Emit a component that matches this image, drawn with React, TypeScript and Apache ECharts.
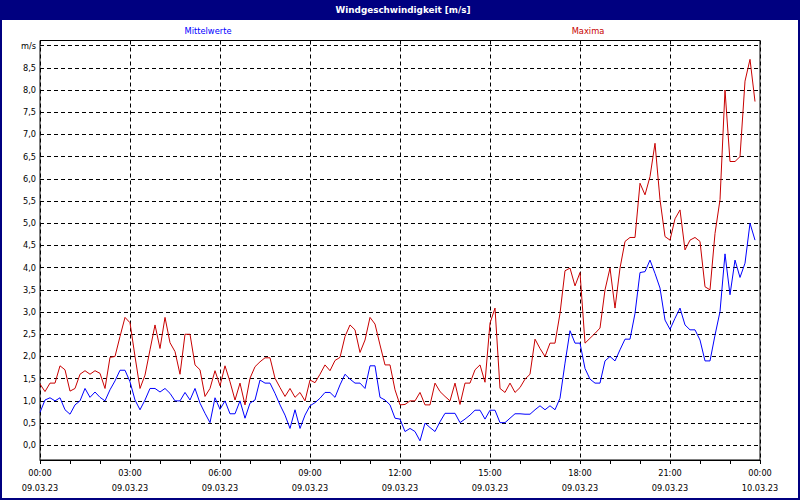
import React, { useEffect, useRef } from "react";
import * as echarts from "echarts";

const TITLE = "Windgeschwindigkeit [m/s]";
const SERIES_NAMES = ["Mittelwerte", "Maxima"];
const DATE_LABELS = ["09.03.23", "10.03.23"];

// 10-minute values, 00:00 .. 23:50
const MEAN: number[] = [
  0.74, 1.02, 1.07, 1.0, 1.07, 0.8, 0.7, 0.91, 1.0, 1.28, 1.08, 1.2,
  1.08, 1.0, 1.25, 1.45, 1.69, 1.69, 1.43, 1.02, 0.8, 1.02, 1.28, 1.28,
  1.2, 1.28, 1.17, 1.0, 1.0, 1.19, 1.02, 1.28, 0.95, 0.72, 0.51, 1.07,
  0.81, 1.0, 0.71, 0.71, 1.0, 0.61, 0.95, 1.02, 1.47, 1.4, 1.4, 1.17,
  0.91, 0.68, 0.38, 0.8, 0.38, 0.68, 0.89, 0.96, 1.06, 1.19, 1.19, 1.08,
  1.36, 1.6, 1.49, 1.4, 1.4, 1.28, 1.79, 1.79, 1.08, 1.02, 0.91, 0.61,
  0.59, 0.31, 0.38, 0.31, 0.1, 0.5, 0.4, 0.31, 0.53, 0.72, 0.72, 0.72,
  0.51, 0.59, 0.68, 0.79, 0.79, 0.59, 0.79, 0.79, 0.51, 0.51, 0.61, 0.71,
  0.71, 0.7, 0.7, 0.8, 0.89, 0.8, 0.89, 0.8, 1.06, 1.85, 2.58, 2.3,
  2.3, 1.73, 1.49, 1.4, 1.4, 1.9, 2.0, 1.9, 2.15, 2.39, 2.39, 2.97,
  3.89, 3.91, 4.17, 3.87, 3.54, 2.82, 2.61, 2.86, 3.09, 2.71, 2.6, 2.6,
  2.37, 1.9, 1.9, 2.48, 3.01, 4.31, 3.39, 4.17, 3.78, 4.1, 5.0, 4.62,
];

const MAX: number[] = [
  1.38, 1.21, 1.4, 1.4, 1.79, 1.7, 1.22, 1.28, 1.6, 1.68, 1.6, 1.68,
  1.62, 1.28, 1.98, 2.0, 2.45, 2.88, 2.76, 2.0, 1.28, 1.58, 2.15, 2.71,
  2.18, 2.88, 2.31, 2.11, 1.6, 2.5, 2.5, 1.81, 1.7, 1.1, 1.28, 1.68,
  1.34, 1.79, 1.43, 1.02, 1.4, 0.91, 1.51, 1.77, 1.88, 1.97, 1.97, 1.51,
  1.3, 1.1, 1.28, 1.08, 1.19, 1.0, 1.47, 1.41, 1.6, 1.81, 1.68, 1.91,
  1.98, 2.45, 2.71, 2.6, 2.09, 2.37, 2.88, 2.73, 2.26, 1.81, 1.81, 1.25,
  0.91, 0.92, 1.0, 1.0, 1.19, 0.91, 0.91, 1.4, 1.21, 1.1, 1.0, 1.4,
  0.92, 1.4, 1.4, 1.7, 1.81, 1.42, 2.75, 3.09, 1.28, 1.19, 1.4, 1.19,
  1.3, 1.49, 1.6, 2.39, 2.18, 2.0, 2.3, 2.3, 2.97, 3.93, 3.99, 3.59,
  3.89, 2.3, 2.41, 2.52, 2.64, 3.5, 3.99, 3.09, 3.99, 4.59, 4.68, 4.68,
  5.9, 5.64, 6.05, 6.8, 5.53, 4.7, 4.62, 5.1, 5.3, 4.4, 4.62, 4.68,
  4.59, 3.57, 3.5, 4.77, 5.53, 8.0, 6.39, 6.39, 6.5, 8.2, 8.69, 7.74,
];

const NAVY = "#000080";
const BLUE = "#0000FF";
const RED = "#C80000";
const FONT = "DejaVu Sans";

export default function App() {
  const ref = useRef<HTMLDivElement>(null);

  useEffect(() => {
    document.body.style.margin = "0";
    const chart = echarts.init(ref.current!, null, { renderer: "svg" });
    const toPts = (arr: number[]) => arr.map((v, i) => [i / 6, v]);
    const option: any = {
      animation: false,
      backgroundColor: "#ffffff",
      textStyle: { fontFamily: FONT },
      grid: [
        { left: 40, width: 720, top: 45.6, height: 399.7, show: false },
        {
          left: 40,
          width: 720,
          top: 40.5,
          height: 419.5,
          show: true,
          borderColor: "#000",
          borderWidth: 1,
          backgroundColor: "transparent",
        },
      ],
      xAxis: [
        { type: "value", gridIndex: 0, min: 0, max: 24, show: false },
        {
          type: "value",
          gridIndex: 1,
          min: 0,
          max: 24,
          interval: 3,
          axisLine: { show: true, lineStyle: { color: "#000", width: 1 } },
          axisTick: { show: true, length: 4, lineStyle: { color: "#000" } },
          minorTick: { show: true, splitNumber: 3, length: 4, lineStyle: { color: "#000" } },
          splitLine: { show: true, lineStyle: { color: "#000", type: [4, 3], width: 1 } },
          axisLabel: {
            margin: 5,
            fontFamily: FONT,
            fontSize: 8.2,
            color: "#000",
            lineHeight: 15,
            formatter: (v: number) => {
              const h = v % 24;
              const hh = (h < 10 ? "0" : "") + h + ":00";
              return hh + "\n" + (v >= 24 ? DATE_LABELS[1] : DATE_LABELS[0]);
            },
          },
        },
      ],
      yAxis: [
        {
          type: "value",
          gridIndex: 0,
          min: 0,
          max: 9,
          interval: 0.5,
          axisLine: { show: false },
          axisTick: { show: false },
          splitLine: { show: true, lineStyle: { color: "#000", type: [4, 3], width: 1 } },
          axisLabel: {
            margin: 4,
            fontFamily: FONT,
            fontSize: 8.2,
            color: "#000",
            formatter: (v: number) => (v === 9 ? "m/s" : v.toFixed(1).replace(".", ",")),
          },
        },
        { type: "value", gridIndex: 1, min: 0, max: 1, show: false },
      ],
      series: [
        {
          name: SERIES_NAMES[1],
          type: "line",
          xAxisIndex: 0,
          yAxisIndex: 0,
          showSymbol: false,
          symbol: "none",
          lineStyle: { color: RED, width: 1 },
          data: toPts(MAX),
        },
        {
          name: SERIES_NAMES[0],
          type: "line",
          xAxisIndex: 0,
          yAxisIndex: 0,
          showSymbol: false,
          symbol: "none",
          lineStyle: { color: BLUE, width: 1 },
          data: toPts(MEAN),
        },
      ],
      graphic: [
        { type: "rect", left: 0, top: 0, shape: { width: 800, height: 20 }, style: { fill: NAVY } },
        { type: "rect", left: 0, top: 0, shape: { width: 2, height: 500 }, style: { fill: NAVY } },
        { type: "rect", left: 798, top: 0, shape: { width: 2, height: 500 }, style: { fill: NAVY } },
        { type: "rect", left: 0, top: 498, shape: { width: 800, height: 2 }, style: { fill: NAVY } },
        {
          type: "text",
          x: 403,
          y: 10,
          style: {
            text: TITLE,
            fill: "#fff",
            font: `bold 8.8px '${FONT}'`,
            align: "center",
            verticalAlign: "middle",
          },
        },
        {
          type: "text",
          x: 208,
          y: 31,
          style: {
            text: SERIES_NAMES[0],
            fill: BLUE,
            font: `8.3px '${FONT}'`,
            align: "center",
            verticalAlign: "middle",
          },
        },
        {
          type: "text",
          x: 588,
          y: 31,
          style: {
            text: SERIES_NAMES[1],
            fill: RED,
            font: `8.3px '${FONT}'`,
            align: "center",
            verticalAlign: "middle",
          },
        },
      ],
    };
    chart.setOption(option);
    return () => chart.dispose();
  }, []);

  return (
    <div
      ref={ref}
      style={{ position: "absolute", left: 0, top: 0, width: 800, height: 500 }}
    />
  );
}
